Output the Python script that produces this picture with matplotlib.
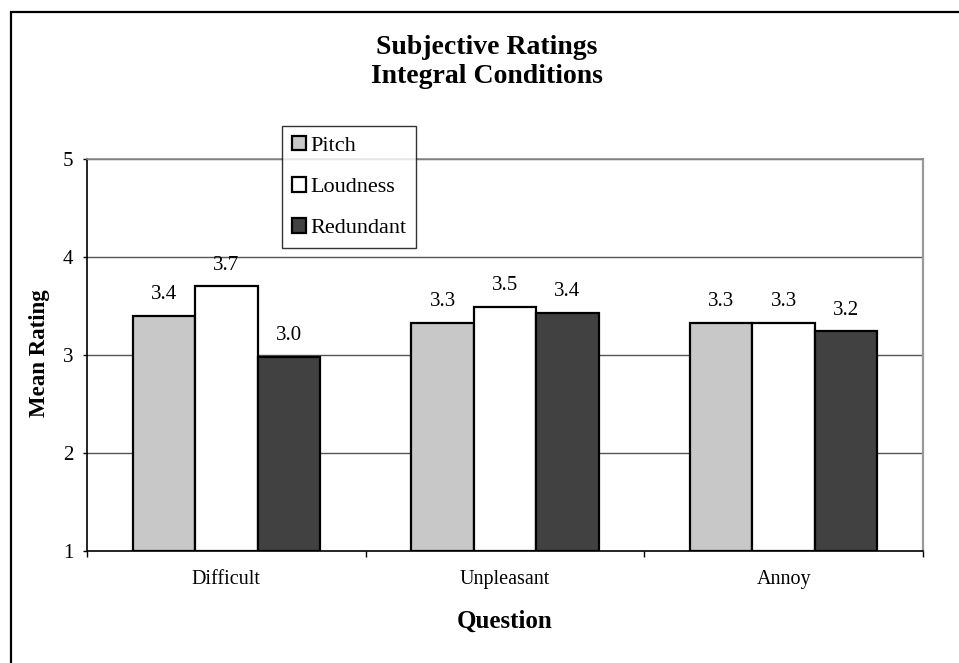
import matplotlib
matplotlib.use("Agg")
import matplotlib.pyplot as plt
from matplotlib.patches import Rectangle
import numpy as np

# Mean subjective ratings per question and condition
questions = ["Difficult", "Unpleasant", "Annoy"]
series_names = ["Pitch", "Loudness", "Redundant"]
pitch = [3.40, 3.33, 3.33]
loudness = [3.70, 3.49, 3.33]
redundant = [2.98, 3.43, 3.24]
y_ticks = [1, 2, 3, 4, 5]

series_values = [pitch, loudness, redundant]
colors = ["#c8c8c8", "#ffffff", "#414141"]

plt.rcParams["font.family"] = ["Liberation Serif", "DejaVu Serif"]

W, H = 959, 663
fig = plt.figure(figsize=(W / 100, H / 100), dpi=100)
fig.patch.set_facecolor("white")

# plot area in pixel coordinates
left, right, top, bottom = 87, 923, 159, 551
ax = fig.add_axes([left / W, 1 - bottom / H, (right - left) / W, (bottom - top) / H])

x = np.arange(len(questions))
bar_w = 0.224
offsets = [-bar_w, 0.0, bar_w]
handles = []
for vals, off, col, name in zip(series_values, offsets, colors, series_names):
    bars = ax.bar(x + off, [v - 1 for v in vals], bottom=1, width=bar_w,
                  color=col, edgecolor="black", linewidth=1.6, label=name, zorder=3)
    handles.append(bars)
    for xi, v in zip(x + off, vals):
        ax.annotate(f"{v:.1f}", (xi, v), xytext=(0, 8.5), textcoords="offset points",
                    ha="center", va="bottom", fontsize=15, zorder=4)

ax.set_xlim(-0.5, len(questions) - 0.5)
ax.set_ylim(1, 5)
ax.set_yticks(y_ticks)
ax.set_yticklabels([str(t) for t in y_ticks], fontsize=15)
ax.tick_params(axis="y", direction="out", length=3, width=1, pad=7, colors="black")

# category boundary ticks (major) and category labels (minor)
ax.set_xticks(np.arange(len(questions) + 1) - 0.5)
ax.set_xticklabels([])
ax.tick_params(axis="x", which="major", direction="out", length=4, width=1)
ax.set_xticks(x, minor=True)
ax.set_xticklabels(questions, minor=True, fontsize=14.5)
ax.tick_params(axis="x", which="minor", length=0, pad=13.5)

for t in y_ticks[1:]:
    ax.axhline(t, color="#555555", linewidth=1.0, zorder=1)

ax.spines["left"].set_color("black")
ax.spines["left"].set_linewidth(1.2)
ax.spines["bottom"].set_color("black")
ax.spines["bottom"].set_linewidth(1.2)
ax.spines["bottom"].set_zorder(5)
ax.spines["right"].set_color("#9a9a9a")
ax.spines["right"].set_linewidth(1.6)
ax.spines["top"].set_color("#8a8a8a")
ax.spines["top"].set_linewidth(1.2)

leg = fig.legend(handles=handles, labels=series_names, loc="upper left",
                 bbox_to_anchor=(282 / W, 1 - 126 / H), bbox_transform=fig.transFigure,
                 borderaxespad=0, fontsize=16, frameon=True, fancybox=False,
                 edgecolor="black", handlelength=0.62, handleheight=0.62,
                 handletextpad=0.2, labelspacing=0.95, borderpad=0.45)
leg.get_frame().set_linewidth(1.0)
leg.set_zorder(10)

fig.text(487 / W, 1 - 35 / H, "Subjective Ratings\nIntegral Conditions",
         ha="center", va="top", fontsize=20, fontweight="bold", linespacing=1.2)
fig.text(40 / W, 1 - 353 / H, "Mean Rating", rotation=90, ha="center",
         va="center", fontsize=16.5, fontweight="bold")
fig.text(505 / W, 1 - 621 / H, "Question", ha="center", va="center",
         fontsize=18, fontweight="bold")

# chart border
fig.patches.append(Rectangle((11 / W, -0.05), 1.2, 1 - 12 / H + 0.05,
                             transform=fig.transFigure, fill=False,
                             edgecolor="black", linewidth=1.6))

fig.savefig("out.png", dpi=100, facecolor="white")
